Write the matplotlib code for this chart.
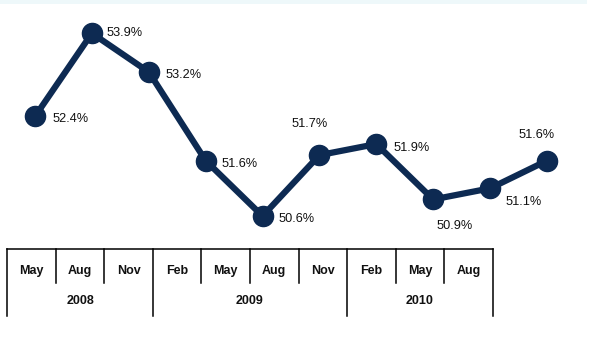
import matplotlib
matplotlib.use('Agg')
import matplotlib.pyplot as plt
from matplotlib.patches import Rectangle

# ---- data ----
months = ['May', 'Aug', 'Nov', 'Feb', 'May', 'Aug', 'Nov', 'Feb', 'May', 'Aug']
years = ['2008', '2009', '2010']
year_spans = [3, 4, 3]
values = [52.4, 53.9, 53.2, 51.6, 50.6, 51.7, 51.9, 50.9, 51.1, 51.6]
labels = [f'{v:.1f}%' for v in values]

# ---- style ----
NAVY = '#0d2a52'
W, H, DPI = 610, 355, 100
PX = 72.0 / DPI  # points per pixel
# label placement: (dx px, dy px downward, horizontal alignment)
label_place = [(17, 3, 'left'), (15, 0, 'left'), (17, 3, 'left'), (16, 3, 'left'),
               (16, 3, 'left'), (-10, -31, 'center'), (17, 4, 'left'),
               (21, 27, 'center'), (15, 14, 'left'), (-10, -26, 'center')]

fig = plt.figure(figsize=(W / DPI, H / DPI), dpi=DPI)
fig.patch.set_facecolor('white')

# faint band at very top
fig.patches.append(Rectangle((0, 351 / H), 587 / W, 4 / H, transform=fig.transFigure,
                             facecolor='#eef8fa', edgecolor='none', zorder=0))

# ---- line chart ----
ax = fig.add_axes([6.6 / W, (H - 249.3) / H, 568.8 / W, 249.3 / H])
ax.set_xlim(-0.5, 9.5)
ax.set_ylim(50.0, 54.5)
ax.axis('off')
x = list(range(len(values)))
ax.plot(x, values, color=NAVY, lw=4.5, marker='o', ms=14.5, mfc=NAVY, mec=NAVY,
        solid_capstyle='round', solid_joinstyle='round', clip_on=False, zorder=3)
for xi, v, lab, (dx, dy, ha) in zip(x, values, labels, label_place):
    ax.annotate(lab, (xi, v), xytext=(dx * PX, -dy * PX), textcoords='offset points',
                ha=ha, va='center', fontsize=9.2, family=['Liberation Sans', 'DejaVu Sans'],
                color='#111111', annotation_clip=False)

# ---- category table ----
tx = fig.add_axes([7.3 / W, (H - 316) / H, 485.4 / W, 67 / H])
tx.set_xlim(0, len(months))
tx.set_ylim(2, 0)
tx.axis('off')
lw = 1.1
tx.plot([0, len(months)], [0, 0], color='black', lw=lw, clip_on=False)
group_edges = [0]
for s in year_spans:
    group_edges.append(group_edges[-1] + s)
for b in range(len(months) + 1):
    bottom = 2 if b in group_edges else 1
    tx.plot([b, b], [0, bottom], color='black', lw=lw, clip_on=False)
tfont = dict(family=['Liberation Sans', 'DejaVu Sans'],
             fontweight='bold', fontsize=9, color='#111111')
for i, m in enumerate(months):
    tx.text(i + 0.5, 0.65, m, ha='center', va='center', **tfont)
for yl, a, b in zip(years, group_edges[:-1], group_edges[1:]):
    tx.text((a + b) / 2, 1.55, yl, ha='center', va='center', **tfont)

fig.savefig('out.png', dpi=DPI, facecolor=fig.get_facecolor())
